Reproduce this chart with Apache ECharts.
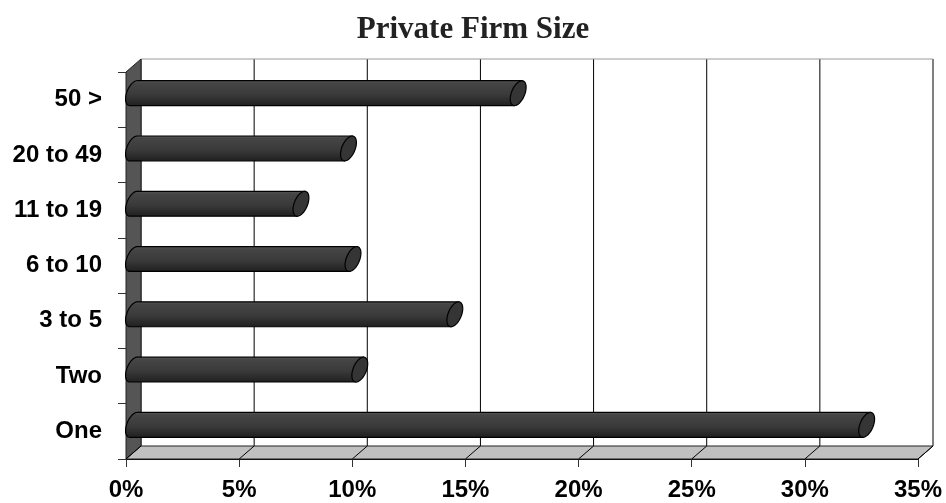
<!DOCTYPE html>
<html><head><meta charset="utf-8">
<script src="https://cdn.jsdelivr.net/npm/echarts@6/dist/echarts.min.js"></script>
<style>html,body{margin:0;padding:0;background:#fff}#c{width:946px;height:503px}</style>
</head><body><div id="c"></div>
<script>
const categories = ['One', 'Two', '3 to 5', '6 to 10', '11 to 19', '20 to 49', '50 >'];
const shares = [32.4, 10.0, 14.2, 9.7, 7.4, 9.5, 17.0];
const xTicks = [0, 5, 10, 15, 20, 25, 30, 35];
const titleText = 'Private Firm Size';

const DX = 15, DY = 13; // 3D depth offset of back plane
const chart = echarts.init(document.getElementById('c'), null, {renderer: 'canvas'});

function ellipsePts(cx, cy, rx, ry, shear, t0, t1, n) {
  const pts = [];
  for (let i = 0; i <= n; i++) {
    const t = t0 + (t1 - t0) * i / n;
    const ex = Math.cos(t) * rx, ey = Math.sin(t) * ry;
    pts.push([cx + ex + shear * ey, cy + ey]);
  }
  return pts;
}

function frameItem(params, api) {
  const cs = params.coordSys;
  const xl = cs.x, xr = cs.x + cs.width, yt = cs.y, yb = cs.y + cs.height;
  const kids = [];
  xTicks.forEach(t => {
    const x = api.coord([t, 0])[0] + DX;
    kids.push({type: 'line', shape: {x1: x, y1: yt - DY, x2: x, y2: yb - DY},
      style: {stroke: '#000', lineWidth: 1}});
  });
  kids.push({type: 'line', shape: {x1: xl + DX, y1: yt - DY, x2: xr + DX, y2: yt - DY},
    style: {stroke: '#9a9a9a', lineWidth: 1}});
  kids.push({type: 'polygon', shape: {points: [[xl, yt], [xl + DX, yt - DY], [xl + DX, yb - DY], [xl, yb]]},
    style: {fill: '#555555', stroke: '#222', lineWidth: 1}});
  kids.push({type: 'polygon', shape: {points: [[xl, yb], [xl + DX, yb - DY], [xr + DX, yb - DY], [xr, yb]]},
    style: {fill: '#c0c0c0', stroke: '#222', lineWidth: 1}});
  xTicks.forEach(t => {
    const x = api.coord([t, 0])[0];
    kids.push({type: 'line', shape: {x1: x, y1: yb, x2: x + DX, y2: yb - DY},
      style: {stroke: '#000', lineWidth: 1}});
  });
  return {type: 'group', children: kids};
}

function barItem(params, api) {
  const val = api.value(0), idx = api.value(1);
  const p0 = api.coord([0, idx]), p1 = api.coord([val, idx]);
  const band = api.size([0, 1])[1];
  const ry = band * 0.225, rx = 7, k = -0.3;
  const cy = p0[1] - DY / 2, x0 = p0[0] + DX / 2, x1 = p1[0] + DX / 2;
  const left = ellipsePts(x0, cy, rx, ry, k, Math.PI / 2, Math.PI * 1.5, 30);
  const body = left.concat([[x1 + k * (-ry), cy - ry], [x1 + k * ry, cy + ry]]);
  const cap = ellipsePts(x1, cy, rx, ry, k, 0, Math.PI * 2, 48);
  const grad = new echarts.graphic.LinearGradient(0, 0, 0, 1, [
    {offset: 0, color: '#5a5a5a'}, {offset: 0.12, color: '#454545'},
    {offset: 0.55, color: '#3a3a3a'}, {offset: 1, color: '#1f1f1f'}]);
  return {type: 'group', children: [
    {type: 'polygon', shape: {points: body}, style: {fill: grad, stroke: '#000', lineWidth: 1.2}},
    {type: 'polygon', shape: {points: cap}, style: {fill: '#353535', stroke: '#000', lineWidth: 1.2}}
  ]};
}

const option = {
  backgroundColor: '#fff',
  animation: false,
  title: {text: titleText, left: 'center', top: 9,
    textStyle: {fontFamily: 'Liberation Serif', fontWeight: 'bold', fontSize: 31, color: '#222'}},
  grid: {left: 126, right: 28, top: 72, bottom: 44},
  xAxis: {type: 'value', min: 0, max: 35, interval: 5,
    axisLine: {show: true, lineStyle: {color: '#000'}},
    axisTick: {show: true, length: 8, lineStyle: {color: '#333'}},
    splitLine: {show: false},
    axisLabel: {formatter: '{value}%', margin: 19, color: '#000',
      fontFamily: 'Liberation Sans', fontWeight: 'bold', fontSize: 24}},
  yAxis: {type: 'category', data: categories,
    axisLine: {show: true, lineStyle: {color: '#000'}},
    axisTick: {show: true, length: 8, lineStyle: {color: '#333'}},
    axisLabel: {margin: 24, color: '#000',
      fontFamily: 'Liberation Sans', fontWeight: 'bold', fontSize: 24}},
  series: [
    {type: 'custom', name: 'frame', renderItem: frameItem, data: [[0, 0]], z: 1, silent: true},
    {type: 'custom', name: 'share', renderItem: barItem, encode: {x: 0, y: 1},
      data: shares.map((v, i) => [v, i]), z: 3}
  ]
};
chart.setOption(option);
</script></body></html>
